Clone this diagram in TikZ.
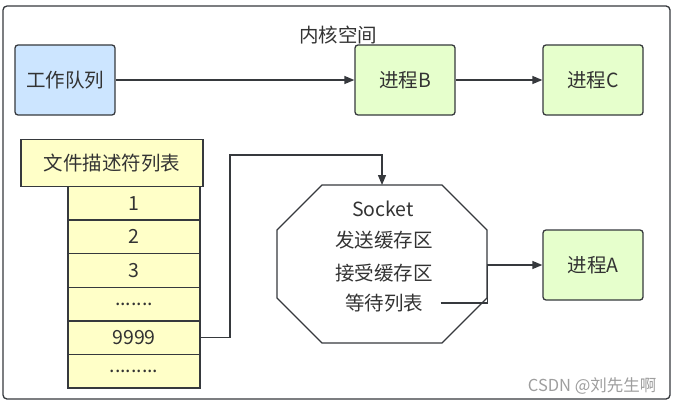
\documentclass[tikz,border=0pt]{standalone}
\usepackage{fontspec}
\setmainfont{Noto Sans CJK SC}
\usepackage{xcolor}
\usetikzlibrary{arrows.meta,positioning}
\definecolor{edge}{HTML}{36393D}
\definecolor{ink}{HTML}{333333}
\definecolor{procfill}{HTML}{E6FFCC}
\definecolor{workfill}{HTML}{CCE5FF}
\definecolor{tabfill}{HTML}{FFFFC8}

\begin{document}
\begin{tikzpicture}[
  x=1pt, y=-1pt, font=\fontsize{19.5}{23}\selectfont, text=ink,
  proc/.style={rectangle,rounded corners=3pt,draw=edge,line width=1.3pt,
               minimum width=100pt,minimum height=70pt,fill=procfill},
  head/.style={rectangle,draw=edge,line width=1.3pt,fill=tabfill,
               minimum width=182pt,minimum height=47pt},
  cell/.style={rectangle,draw=edge,line width=1.3pt,fill=tabfill,outer sep=0pt,
               minimum width=132pt,minimum height=33.6pt},
  sockbox/.style={rectangle,outer sep=0pt,minimum width=210pt,minimum height=158pt},
  wmark/.style={text=black!38,font=\fontsize{16.5}{19}\selectfont,anchor=east},
  arr/.style={-{Triangle[length=10pt,width=8pt]},line width=1.3pt,draw=edge}]
\useasboundingbox (0,0) rectangle (674,404);
\draw[edge,line width=1.3pt,rounded corners=4pt] (3,6) rectangle (670,399);
\node (ks) at (338,35) {内核空间};
\node[proc,fill=workfill] (wq) at (65,80) {工作队列};
\node[proc] (pB) at (405,80) {进程B};
\node[proc] (pC) at (593,80) {进程C};
\node[proc] (pA) at (593,265) {进程A};
% file descriptor table
\node[head] (fdt) at (112,163) {文件描述符列表};
\node[cell,anchor=north] (c1) at (134,186.5) {1};
\node[cell,below=0pt of c1] (c2) {2};
\node[cell,below=0pt of c2] (c3) {3};
\node[cell,below=0pt of c3] (c4) {.......};
\node[cell,below=0pt of c4] (c5) {9999};
\node[cell,below=0pt of c5] (c6) {.........};
% socket (octagon drawn on the box corners)
\node[sockbox] (sock) at (382,264) {};
\draw[edge,line width=1.3pt,line join=round]
  ([xshift=45pt]sock.north west) -- ([xshift=-45pt]sock.north east)
  -- ([yshift=-45pt]sock.north east) -- ([yshift=45pt]sock.south east)
  -- ([xshift=-45pt]sock.south east) -- ([xshift=45pt]sock.south west)
  -- ([yshift=45pt]sock.south west) -- ([yshift=-45pt]sock.north west) -- cycle;
\node (sk) at (383,209) {Socket};
\node (snd) at (384,240) {发送缓存区};
\node (rcv) at (384,273) {接受缓存区};
\node (wait) at (384,303) {等待列表};
\node[wmark] (csdn) at (660,386) {CSDN @刘先生啊};
\draw[arr] (wq) -- (pB); \draw[arr] (pB) -- (pC);
\draw[arr] (c5.east) -- ++(30,0) |- ([yshift=30pt]sock.north) -- (sock.north);
\draw[arr] ([xshift=14pt]wait.east) -- ++(47,0) |- (pA);
\end{tikzpicture}
\end{document}
